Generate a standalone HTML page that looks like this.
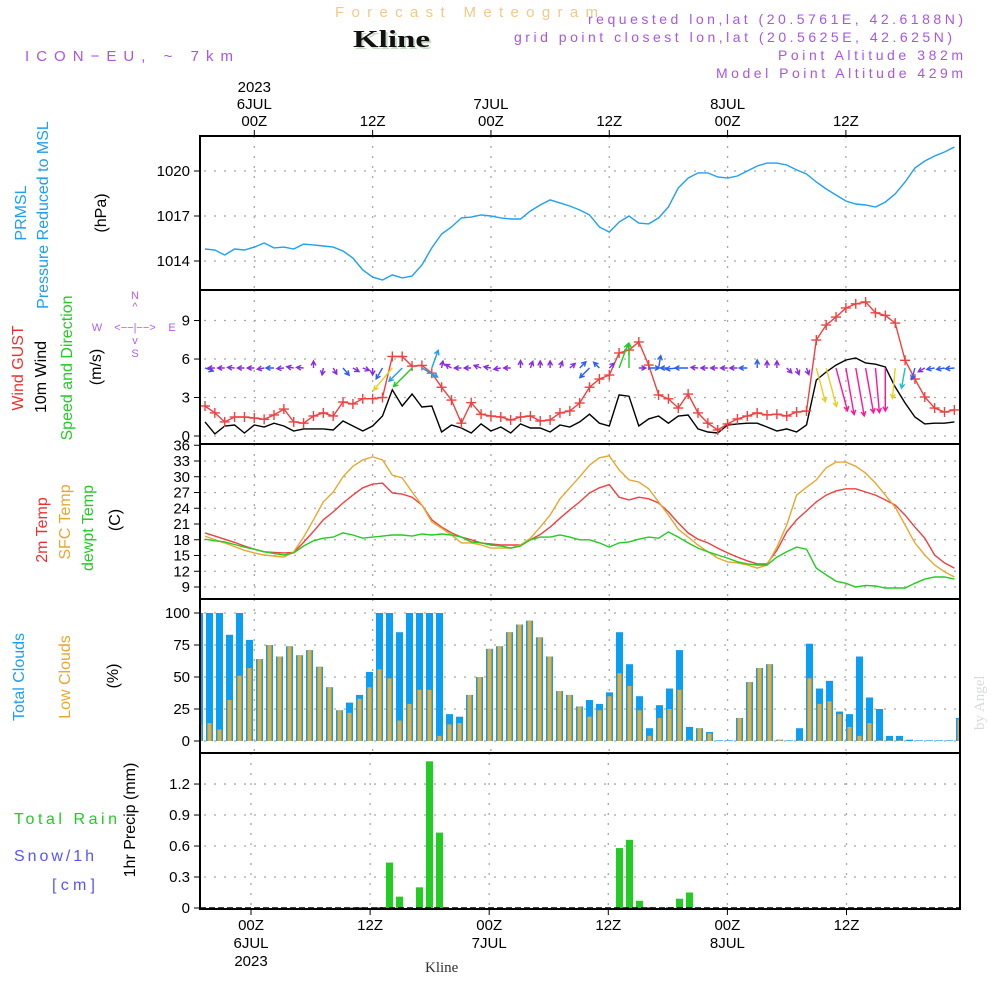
<!DOCTYPE html>
<html><head><meta charset="utf-8"><title>Forecast Meteogram - Kline</title>
<style>
html,body{margin:0;padding:0;background:#fff;}
svg{display:block;font-family:"Liberation Sans",sans-serif;}
</style></head>
<body>
<svg id="chart" width="1000" height="1000" viewBox="0 0 1000 1000" xmlns="http://www.w3.org/2000/svg">
<rect x="0" y="0" width="1000" height="1000" fill="#fff"/>
<g>
<text x="335" y="17" font-size="15" fill="#f2c98a" textLength="263" lengthAdjust="spacing">Forecast Meteogram</text>
<text x="355" y="49" font-size="24" font-weight="bold" font-family="Liberation Serif,serif" fill="#c8dcc8" textLength="77" lengthAdjust="spacingAndGlyphs">Kline</text>
<text x="353" y="47" font-size="24" font-weight="bold" font-family="Liberation Serif,serif" fill="#111" textLength="77" lengthAdjust="spacingAndGlyphs">Kline</text>
<text x="25" y="61" font-size="15" fill="#a855ee" textLength="208" lengthAdjust="spacing">ICON−EU, ~ 7km</text>
<text x="963" y="24" font-size="14" fill="#a855ee" text-anchor="end" textLength="375" lengthAdjust="spacing">requested lon,lat (20.5761E, 42.6188N)</text>
<text x="952" y="42" font-size="14" fill="#a855ee" text-anchor="end" textLength="438" lengthAdjust="spacing">grid point closest lon,lat (20.5625E, 42.625N)</text>
<text x="963" y="60" font-size="14" fill="#a855ee" text-anchor="end" textLength="185" lengthAdjust="spacing">Point Altitude 382m</text>
<text x="963" y="78" font-size="14" fill="#a855ee" text-anchor="end" textLength="247" lengthAdjust="spacing">Model Point Altitude 429m</text>
</g>
<g font-size="16">
<text transform="translate(26,213) rotate(-90)" text-anchor="middle" fill="#1e9ff0">PRMSL</text>
<text transform="translate(48,215) rotate(-90)" text-anchor="middle" fill="#1e9ff0">Pressure Reduced to MSL</text>
<text transform="translate(106,213) rotate(-90)" text-anchor="middle" fill="#000">(hPa)</text>
<text transform="translate(23,368) rotate(-90)" text-anchor="middle" fill="#f03030">Wind GUST</text>
<text transform="translate(46,377) rotate(-90)" text-anchor="middle" fill="#000">10m Wind</text>
<text transform="translate(72,368) rotate(-90)" text-anchor="middle" fill="#22cc22">Speed and Direction</text>
<text transform="translate(101,367) rotate(-90)" text-anchor="middle" fill="#000">(m/s)</text>
<g fill="#b060ee" font-size="11">
<text x="135" y="299" text-anchor="middle">N</text>
<text x="135" y="310" text-anchor="middle">^</text>
<text x="97" y="331" text-anchor="middle">W</text>
<text x="135" y="331" text-anchor="middle">&lt;−−|−−&gt;</text>
<text x="172" y="331" text-anchor="middle">E</text>
<text x="135" y="344" text-anchor="middle">v</text>
<text x="135" y="357" text-anchor="middle">S</text>
</g>
<text transform="translate(47,530) rotate(-90)" text-anchor="middle" fill="#f03030">2m Temp</text>
<text transform="translate(70,522) rotate(-90)" text-anchor="middle" fill="#e8a830">SFC Temp</text>
<text transform="translate(93,528) rotate(-90)" text-anchor="middle" fill="#22cc22">dewpt Temp</text>
<text transform="translate(120,520) rotate(-90)" text-anchor="middle" fill="#000">(C)</text>
<text transform="translate(24,677) rotate(-90)" text-anchor="middle" fill="#1e9ff0">Total Clouds</text>
<text transform="translate(70,677) rotate(-90)" text-anchor="middle" fill="#e8a830">Low Clouds</text>
<text transform="translate(118,676) rotate(-90)" text-anchor="middle" fill="#000">(%)</text>
<text transform="translate(135,820) rotate(-90)" text-anchor="middle" fill="#000">1hr Precip (mm)</text>
<text x="14" y="824" fill="#22cc22" textLength="103" lengthAdjust="spacing">Total   Rain</text>
<text x="14" y="861" fill="#5555ff" textLength="80" lengthAdjust="spacing">Snow/1h</text>
<text x="52" y="890" fill="#5555ff" textLength="43" lengthAdjust="spacing">[cm]</text>
</g>
<text transform="translate(984,730) rotate(-90)" font-size="15" font-family="Liberation Serif,serif" fill="#d8dcd8">by Angel</text>
<text x="425" y="972" font-size="15" font-family="Liberation Serif,serif" fill="#333">Kline</text>
<g id="plot"></g>
</svg>
<script>
// ---- data (hourly, from 6JUL 00Z offset hours) ----
const lineHours0 = -5; // first line sample hour
const pressure = [1014.8,1014.73,1014.4,1014.8,1014.73,1014.93,1015.2,1014.87,1014.93,1014.8,1015.13,1015.07,1015.0,1014.93,1014.67,1014.2,1013.4,1012.93,1012.73,1013.07,1012.87,1013.0,1013.73,1014.87,1015.8,1016.27,1016.87,1016.93,1017.07,1017.0,1016.87,1016.8,1016.8,1017.33,1017.73,1018.07,1017.87,1017.67,1017.4,1017.07,1016.27,1015.93,1016.6,1017.0,1016.53,1016.47,1016.87,1017.6,1018.87,1019.53,1019.87,1019.87,1019.6,1019.53,1019.67,1020.0,1020.33,1020.53,1020.53,1020.4,1020.07,1019.8,1019.27,1018.8,1018.4,1018.0,1017.8,1017.73,1017.6,1017.93,1018.47,1019.27,1020.2,1020.67,1021.0,1021.27,1021.6];
const windGust = [2.34,1.8,1.1,1.48,1.48,1.4,1.3,1.64,2.1,1.1,1.0,1.56,1.8,1.56,2.65,2.5,2.9,2.9,3.0,6.2,6.2,5.45,5.5,4.9,3.8,2.8,1.0,2.6,1.7,1.56,1.48,1.25,1.48,1.56,1.17,1.25,1.8,1.95,2.57,3.8,4.44,4.75,6.47,6.7,7.33,5.53,3.2,2.9,2.18,3.27,1.8,1.0,0.47,0.94,1.33,1.56,1.8,1.64,1.7,1.56,1.87,1.95,7.48,8.65,9.27,9.98,10.3,10.45,9.6,9.4,8.8,5.9,4.44,3.04,2.18,1.87,2.03];
const wind10m = [1.1,0.16,0.78,0.86,0.23,0.86,0.7,1.0,0.78,0.39,0.55,0.55,0.55,0.47,1.17,0.78,0.39,0.78,1.56,3.6,2.34,3.27,2.26,2.34,0.31,0.86,0.62,0.23,0.94,0.39,0.7,0.23,0.94,0.62,0.62,0.31,0.86,0.7,1.1,1.7,1.0,0.78,3.2,3.1,0.78,1.33,1.56,1.0,1.56,1.64,0.55,0.31,0.23,0.86,0.94,1.0,1.0,0.7,0.39,0.55,0.31,0.86,4.36,4.99,5.53,5.92,6.08,5.69,5.6,5.38,3.82,2.57,1.48,0.94,1.0,1.0,1.1];
const windDir = [290,90,90,95,90,90,80,90,85,100,95,180,10,330,320,300,290,0,30,40,45,45,300,200,190,120,90,90,110,100,80,90,180,200,180,180,200,230,225,45,135,225,200,180,270,270,190,90,85,90,95,90,90,90,90,90,180,180,180,315,340,340,345,345,345,350,350,350,355,0,5,10,15,60,80,80,85];
const temp2m = [19.3,18.7,18.1,17.5,16.8,16.2,15.7,15.6,15.5,15.6,17.5,19.6,21.8,23.3,25,26.5,27.9,28.6,28.8,26.9,26.7,26.1,24.6,21.8,20.4,19.3,18.5,18.0,17.4,17.2,17.0,17.0,17.0,18.0,19.0,20.4,22.1,23.7,25.2,26.9,27.9,28.5,26.1,25.6,26.1,25.8,25.0,23.3,21.2,19.3,18.1,17.4,16.4,15.5,14.7,14.0,13.4,13.4,16.0,19.5,21.8,23.5,25.2,26.5,27.3,27.7,27.7,27.1,26.5,25.6,24.6,22.7,20.4,18.3,15.1,13.6,12.6];
const tempSfc = [18.7,18.0,17.4,16.7,16.0,15.5,15.1,14.9,14.7,15.7,18.5,21.8,25.2,27.1,30,32,33.2,33.8,33.2,30.3,29.8,27.1,24.6,21.4,20.2,18.9,17.4,17.4,17.0,16.4,16.4,16.4,17.0,18.3,20.4,22.7,25.8,27.9,30,32.2,33.6,34,31.3,29.4,29,27.7,25.2,22.7,20,18.5,17,15.7,14.5,13.8,13.6,13.2,12.6,13.2,16.6,20.8,26.5,28,29.4,31.7,32.8,32.8,32,30.7,28.8,26.5,24.2,20.8,17.4,15.1,13.2,11.9,10.9];
const dewpoint = [18.1,17.8,17.6,17.1,16.6,16.2,15.7,15.4,15.1,15.5,16.8,17.8,18.3,18.5,19.3,18.9,18.3,18.5,18.7,18.9,18.9,18.7,19.1,18.9,19.1,18.9,18.5,17.6,17.4,17.0,16.8,16.4,16.8,18,18.5,18.5,18.9,18.5,18,18,17.4,16.6,17.4,17.6,18.1,18.5,18.3,19.5,18.5,17.4,16.4,15.7,15.1,14.5,13.8,13.4,13.2,13.2,14.7,15.7,16.6,16.2,12.6,11.3,10.1,9.7,9,9.3,9.2,8.8,8.8,8.8,9.7,10.5,10.9,10.9,10.5];
const barHours0 = -6; // first bar hour
const totalClouds = [100,100,100,83,100,79,64,75,66,74,67,71,58,42,24,30,36,54,100,100,85,100,100,100,100,21,19,36,50,72,74,85,91,94,81,66,39,36,27,32,29,38,85,60,35,10,28,41,71,11,10,7,0.5,0.5,18,46,57,60,1,0.5,10,76,41,47,23,21,66,34,25,4,4,1,0.5,0.5,0.5,0.5,18];
const lowClouds = [13,14,9,32,51,57,64,75,66,74,67,71,58,42,24,22,33,42,56,49,16,29,40,40,4,13,14,36,50,72,74,85,91,94,81,66,39,36,27,19,24,35,53,43,24,4,18,25,40,1,10,6,0,0,18,46,57,60,1,0,0.5,49,29,31,21,11,4,14,0.5,0.5,0.5,0,0,0,0,0,17];
const precip = [0,0,0,0,0,0,0,0,0,0,0,0,0,0,0,0.005,0.01,0,0.01,0.44,0.11,0,0.2,1.42,0.73,0,0,0,0,0,0,0,0,0,0,0,0,0,0,0,0,0,0.58,0.66,0.07,0.01,0,0.01,0.09,0.15,0,0,0,0,0,0,0,0,0,0,0,0,0,0,0,0,0,0,0,0,0,0,0,0,0,0,0];
const pressTicks = [1014,1017,1020];
const windTicks = [0,3,6,9];
const tempTicks = [9,12,15,18,21,24,27,30,33,36];
const cloudTicks = [0,25,50,75,100];
const precipTicks = [0.3,0.6,0.9,1.2];
const precipTickLabels = ["0","0.3","0.6","0.9","1.2"];
const timeTickHours = [0,12,24,36,48,60];
const topTimeLabels = [["2023","6JUL","00Z"],["12Z"],["7JUL","00Z"],["12Z"],["8JUL","00Z"],["12Z"]];
const bottomTimeLabels = [["00Z","6JUL","2023"],["12Z"],["00Z","7JUL"],["12Z"],["00Z","8JUL"],["12Z"]];

// ---- axes ----
const X0=200, X1=960;
const xLine = h => 254.3 + 9.86*h;
const xBar = h => 256 + 10*h;
const xBottom = h => 251 + 9.925*h;
const yPress = p => 171 + (1020-p)*15;
const yWind = v => 436 - v*12.83;
const yTemp = t => 461 + (33-t)*5.25;
const yCloud = c => 741 - c*1.28;
const yPrecip = m => 908 - m*103.3;
const panels = [[136,290],[290,444],[444,599],[599,753],[753,909]];

const NS="http://www.w3.org/2000/svg";
const plot=document.getElementById('plot');
function mk(tag,attrs,parent){const e=document.createElementNS(NS,tag);for(const k in attrs)e.setAttribute(k,attrs[k]);(parent||plot).appendChild(e);return e;}

const defs=mk('defs',{});
const cp=mk('clipPath',{id:'pc'},defs);
mk('rect',{x:X0,y:136,width:X1-X0,height:773},cp);

const grid=mk('g',{stroke:'#a8a8a8','stroke-width':1.3,'stroke-dasharray':'2,8',fill:'none'});


timeTickHours.forEach(h=>{
  for(let p=0;p<4;p++){const x=xLine(h);mk('line',{x1:x,x2:x,y1:panels[p][0],y2:panels[p][1]},grid);}
  const xb=xBottom(h);mk('line',{x1:xb,x2:xb,y1:753,y2:909},grid);
});
function hgrid(vals,fy){vals.forEach(v=>{const y=fy(v);mk('line',{x1:X0+4,x2:X1,y1:y,y2:y},grid);});}
hgrid(pressTicks,yPress);hgrid(windTicks,yWind);hgrid(tempTicks.filter(t=>t<36),yTemp);hgrid(cloudTicks,yCloud);hgrid(precipTicks,yPrecip);

const tl=mk('g',{'font-size':15,fill:'#000','text-anchor':'end'});


function ylab(vals,fy,labs){vals.forEach((v,i)=>{const y=fy(v);mk('text',{x:190,y:y+5},tl).textContent=labs?labs[i]:String(v);mk('line',{x1:194,x2:200,y1:y,y2:y,stroke:'#000'},tl);});}
ylab(pressTicks,yPress);ylab(windTicks,yWind);ylab(tempTicks,yTemp);ylab(cloudTicks,yCloud);
ylab([0].concat(precipTicks),yPrecip,precipTickLabels);

const tt=mk('g',{'font-size':15,fill:'#000','text-anchor':'middle'});


timeTickHours.forEach((h,i)=>{
  const x=xLine(h);const L=topTimeLabels[i];
  L.forEach((s,j)=>{mk('text',{x:x,y:126-(L.length-1-j)*17},tt).textContent=s;});
  mk('line',{x1:x,x2:x,y1:130,y2:136,stroke:'#000'},tt);
  const xb=xBottom(h);const B=bottomTimeLabels[i];
  B.forEach((s,j)=>{mk('text',{x:xb,y:930+j*18},tt).textContent=s;});
  mk('line',{x1:xb,x2:xb,y1:909,y2:915,stroke:'#000'},tt);
});

const content=mk('g',{'clip-path':'url(#pc)'});
function polyline(arr,fx,fy,color,name){
  const pts=arr.map((v,i)=>fx(lineHours0+i).toFixed(1)+','+fy(v).toFixed(1)).join(' ');
  const e=mk('polyline',{points:pts,fill:'none',stroke:color,'stroke-width':1.4},content);
  
  
  return e;
}
polyline(pressure,xLine,yPress,'#1ea0f5','pressure-line');
const cg=mk('g',{},content);


totalClouds.forEach((v,i)=>{
  const h=barHours0+i,x=xBar(h);
  const b=mk('rect',{x:x,y:yCloud(v),width:7,height:yCloud(0)-yCloud(v),fill:'#0a9ef5'},cg);
  
  
  const lv=lowClouds[i];
  const o=mk('rect',{x:x+1.5,y:yCloud(lv),width:4,height:yCloud(0)-yCloud(lv),fill:'#e8ac30'},cg);
  
  
});
const pg=mk('g',{},content);


precip.forEach((v,i)=>{
  if(v<=0)return;
  const x=xBar(barHours0+i);
  const b=mk('rect',{x:x,y:yPrecip(v),width:7,height:Math.max(1,yPrecip(0)-yPrecip(v)),fill:'#22cc22'},pg);
  
  
});
mk('line',{x1:X0,x2:X1,y1:908,y2:908,stroke:'#000','stroke-width':1.5,'stroke-dasharray':'6,3'},content);
polyline(temp2m,xLine,yTemp,'#f04040','temp-2m-line');
polyline(tempSfc,xLine,yTemp,'#e8a830','sfc-temp-line');
polyline(dewpoint,xLine,yTemp,'#22cc22','dewpoint-line');
polyline(wind10m,xLine,yWind,'#000','wind-10m-line');
polyline(windGust,xLine,yWind,'#f04040','wind-gust-line');
const gm=mk('g',{stroke:'#f04040','stroke-width':1.4},content);


windGust.forEach((v,i)=>{const x=xLine(lineHours0+i),y=yWind(v);
  mk('line',{x1:x-5,x2:x+5,y1:y,y2:y},gm);mk('line',{x1:x,x2:x,y1:y-5,y2:y+5},gm);});
function arrowColor(s){if(s<1)return '#8a2be2';if(s<2)return '#2a5cff';if(s<2.5)return '#1ea0f5';if(s<3)return '#18c0c8';if(s<3.5)return '#22cc22';if(s<5)return '#e8d020';return '#ff1493';}
const ag=mk('g',{fill:'none','stroke-width':1.4},content);


windDir.forEach((d,i)=>{
  const s=wind10m[i];const x=xLine(lineHours0+i),y=368;
  const len=Math.max(7,8*s);const to=(d+180)*Math.PI/180;
  const dx=Math.sin(to)*len,dy=-Math.cos(to)*len;
  const x2=x+dx,y2=y+dy;const a=Math.atan2(dy,dx);const hl=5;
  const c=arrowColor(s);
  const p=mk('path',{d:`M${x.toFixed(1)},${y} L${x2.toFixed(1)},${y2.toFixed(1)} M${(x2-hl*Math.cos(a-0.5)).toFixed(1)},${(y2-hl*Math.sin(a-0.5)).toFixed(1)} L${x2.toFixed(1)},${y2.toFixed(1)} L${(x2-hl*Math.cos(a+0.5)).toFixed(1)},${(y2-hl*Math.sin(a+0.5)).toFixed(1)}`,stroke:c},ag);
  
  
});
const fr=mk('g',{fill:'none',stroke:'#000','stroke-width':2});


panels.forEach(p=>{mk('rect',{x:X0,y:p[0],width:X1-X0,height:p[1]-p[0]},fr);});
</script>
</body></html>
